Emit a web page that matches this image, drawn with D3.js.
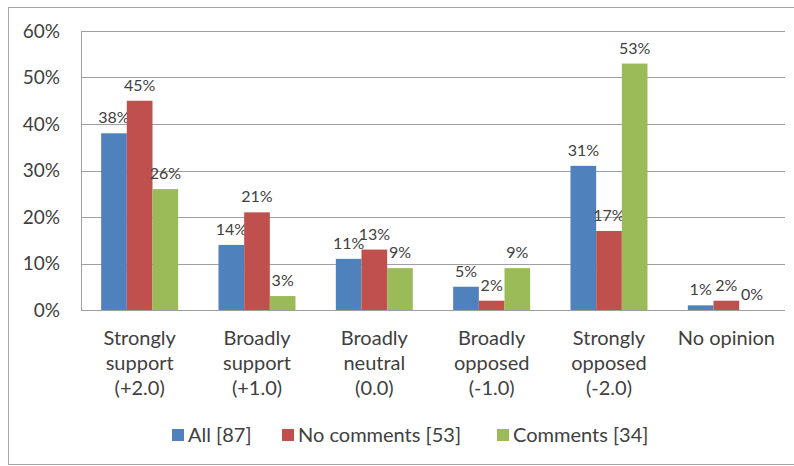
<!DOCTYPE html>
<html>
<head>
<meta charset="utf-8">
<script src="https://cdn.jsdelivr.net/npm/d3@7"></script>
<style>
  body { margin: 0; background: #fff; }
  text { font-family: Lato, "Open Sans", sans-serif; fill: #404040; }
</style>
</head>
<body>
<div class="chart"></div>
<script>
// chart data
var categories = [
    ["Strongly", "support", "(+2.0)"],
    ["Broadly", "support", "(+1.0)"],
    ["Broadly", "neutral", "(0.0)"],
    ["Broadly", "opposed", "(-1.0)"],
    ["Strongly", "opposed", "(-2.0)"],
    ["No opinion"]
];
var seriesNames = ["All [87]", "No comments [53]", "Comments [34]"];
var allValues = [38, 14, 11, 5, 31, 1];
var noCommentValues = [45, 21, 13, 2, 17, 2];
var commentValues = [26, 3, 9, 9, 53, 0];
var yTicks = [0, 10, 20, 30, 40, 50, 60];
var colors = ["#4F81BD", "#C0504D", "#9BBB59"];

var series = [allValues, noCommentValues, commentValues];

// set the dimensions and margins of the graph
var margin = {top: 31, right: 9, bottom: 156, left: 81},
    width = 794 - margin.left - margin.right,
    height = 466 - margin.top - margin.bottom;

var svgRoot = d3.select(".chart").append("svg")
    .attr("width", 794)
    .attr("height", 466);

// outer frame
svgRoot.append("rect")
    .attr("x", 8.5).attr("y", 7.5)
    .attr("width", 800).attr("height", 457)
    .attr("fill", "none")
    .attr("stroke", "#a6a6a6")
    .attr("stroke-width", 1);

var svg = svgRoot.append("g")
    .attr("transform", "translate(" + margin.left + "," + margin.top + ")");

// set the ranges
var x = d3.scaleBand().domain(d3.range(categories.length)).range([0, width]);
var xs = d3.scaleBand().domain(d3.range(series.length)).range([0, 77]);
var y = d3.scaleLinear().domain([0, 60]).range([height, 0]);

// gridlines
svg.append("g").selectAll("line")
    .data(yTicks)
    .enter().append("line")
    .attr("x1", 0).attr("x2", width)
    .attr("y1", function(d){ return Math.round(y(d)) + 0.5; })
    .attr("y2", function(d){ return Math.round(y(d)) + 0.5; })
    .attr("stroke", "#a0a0a0")
    .attr("stroke-width", 1.2);

// left axis line
svg.append("line")
    .attr("x1", 0.5).attr("x2", 0.5)
    .attr("y1", 0).attr("y2", height)
    .attr("stroke", "#a0a0a0");

// y labels
var yAxis = d3.axisLeft(y).tickValues(yTicks).tickSize(0).tickPadding(21)
    .tickFormat(function(d){ return d + "%"; });
var gy = svg.append("g").call(yAxis);
gy.select(".domain").remove();
gy.selectAll("text").style("font-size", "19px").attr("fill", "#404040");

// bars
var offset = (x.bandwidth() - 77) / 2;
series.forEach(function(vals, si){
    var g = svg.append("g");
    g.selectAll("rect")
        .data(vals)
        .enter().append("rect")
        .attr("x", function(d, i){ return x(i) + offset + xs(si); })
        .attr("width", xs.bandwidth())
        .attr("y", function(d){ return y(d); })
        .attr("height", function(d){ return height - y(d); })
        .attr("fill", colors[si]);

    g.selectAll("text")
        .data(vals)
        .enter().append("text")
        .attr("x", function(d, i){ return x(i) + offset + xs(si) + xs.bandwidth() / 2; })
        .attr("y", function(d){ return y(d) - 10; })
        .attr("text-anchor", "middle")
        .style("font-size", "16px")
        .text(function(d){ return d + "%"; });
});

// category labels
var cat = svg.append("g").selectAll("text")
    .data(categories)
    .enter().append("text")
    .attr("text-anchor", "middle")
    .attr("transform", function(d, i){ return "translate(" + (x(i) + x.bandwidth() / 2) + "," + (height + 35) + ")"; })
    .style("font-size", "20px");
cat.selectAll("tspan")
    .data(function(d){ return d; })
    .enter().append("tspan")
    .attr("x", 0)
    .attr("dy", function(d, i){ return i === 0 ? 0 : 25; })
    .text(function(d){ return d; });

// legend
var legendX = [172, 282, 497];
var legend = svgRoot.append("g").selectAll("g")
    .data(seriesNames)
    .enter().append("g")
    .attr("transform", function(d, i){ return "translate(" + legendX[i] + ",429)"; });
legend.append("rect")
    .attr("width", 12).attr("height", 12)
    .attr("fill", function(d, i){ return colors[i]; });
legend.append("text")
    .attr("x", 16).attr("y", 13)
    .style("font-size", "20px")
    .text(function(d){ return d; });
</script>
</body>
</html>
